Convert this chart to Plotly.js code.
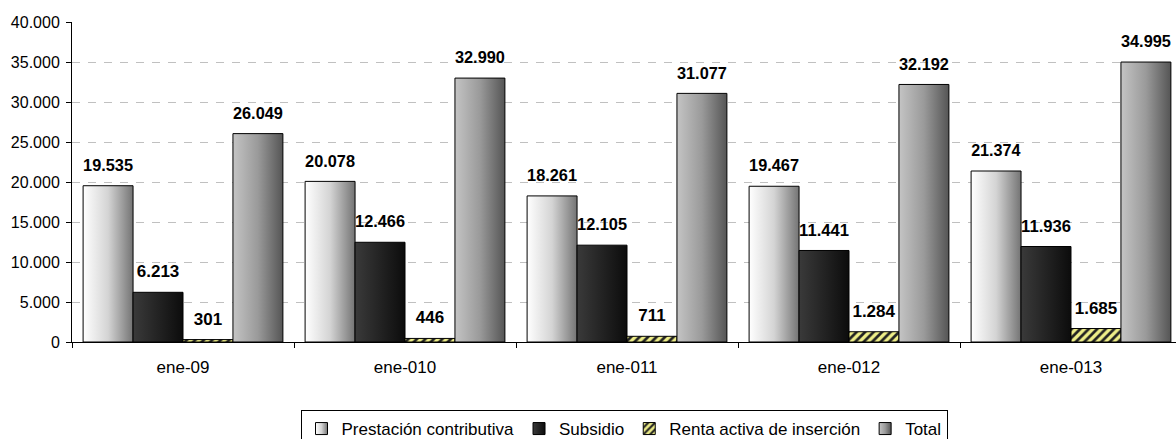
<!DOCTYPE html>
<html><head><meta charset="utf-8">
<script src="https://cdn.plot.ly/plotly-3.0.1.min.js"></script>
<style>html,body{margin:0;padding:0;background:#fff;}#chart{width:1176px;height:439px;}</style>
</head><body><div id="chart"></div>
<script>
const categories = ['ene-09','ene-010','ene-011','ene-012','ene-013'];
const prestacion = [19535, 20078, 18261, 19467, 21374];
const subsidio = [6213, 12466, 12105, 11441, 11936];
const renta = [301, 446, 711, 1284, 1685];
const total = [26049, 32990, 31077, 32192, 34995];
const seriesNames = ['Prestación contributiva','Subsidio','Renta activa de inserción','Total'];

const FONT = 'Liberation Sans, Arial, sans-serif';
const textFont = {family:FONT, size:17, color:'#000', weight:'bold'};
function mk(name, y, color, extraMarker){
  return {
    type:'bar', name:name, x:categories, y:y,
    marker:Object.assign({color:color, line:{color:'#000', width:1}}, extraMarker||{}),
    texttemplate:'%{y:,d}', textposition:'outside', textfont:textFont,
    cliponaxis:false, hoverinfo:'skip'
  };
}
const data = [
  mk(seriesNames[0], prestacion, '#d0d0d0'),
  mk(seriesNames[1], subsidio, '#222222'),
  mk(seriesNames[2], renta, '#eeee88',
     {pattern:{shape:'/', fgcolor:'#222', bgcolor:'#eeee88', size:6, solidity:0.45}}),
  mk(seriesNames[3], total, '#888888')
];
const layout = {
  width:1176, height:439,
  margin:{l:72, r:0, t:22, b:97, autoexpand:false},
  paper_bgcolor:'#fff', plot_bgcolor:'#fff',
  separators:',.',
  font:{family:FONT, size:16, color:'#000'},
  barmode:'group', bargap:0.1, bargroupgap:0,
  showlegend:true,
  legend:{orientation:'h', x:0.5, xanchor:'center', y:-0.2125, yanchor:'top',
    bordercolor:'#000', borderwidth:1, font:{size:17, family:FONT}, itemwidth:30,
    tracegroupgap:0, traceorder:'normal'},
  xaxis:{range:[-0.5, 4.473], showline:true, linecolor:'#000', linewidth:1, ticks:'outside',
    tickson:'boundaries', ticklen:5, tickcolor:'#000', showgrid:false,
    tickfont:{size:17}, ticklabelstandoff:10},
  yaxis:{range:[0,40000], dtick:5000, tickformat:',d', showline:true, linecolor:'#000', linewidth:1,
    ticks:'outside', ticklen:5, tickcolor:'#000', showgrid:true, gridcolor:'#c0c0c0',
    griddash:'8px,8px', gridwidth:1, zeroline:false, tickfont:{size:16}, ticklabelstandoff:3}
};
Plotly.newPlot('chart', data, layout, {displayModeBar:false, staticPlot:true}).then(function(gd){
  const svg = gd.querySelector('svg.main-svg');
  const ns = 'http://www.w3.org/2000/svg';
  let defs = svg.querySelector('defs');
  const grads = {
    gPrest:[['0%','#ffffff'],['50%','#d4d4d4'],['100%','#747474']],
    gSub:[['0%','#3a3a3a'],['100%','#0c0c0c']],
    gTot:[['0%','#c4c4c4'],['50%','#9a9a9a'],['100%','#555555']]
  };
  Object.keys(grads).forEach(function(id){
    const lg = document.createElementNS(ns,'linearGradient');
    lg.setAttribute('id',id); lg.setAttribute('x1','0'); lg.setAttribute('y1','0');
    lg.setAttribute('x2','1'); lg.setAttribute('y2','0');
    grads[id].forEach(function(s){
      const st = document.createElementNS(ns,'stop');
      st.setAttribute('offset',s[0]); st.setAttribute('stop-color',s[1]);
      lg.appendChild(st);
    });
    defs.appendChild(lg);
  });
  const map = ['gPrest','gSub',null,'gTot'];
  gd.querySelectorAll('.barlayer .trace.bars').forEach(function(t,i){
    if(map[i]) t.querySelectorAll('.point path').forEach(function(p){ p.style.fill = 'url(#'+map[i]+')'; });
    t.querySelectorAll('.point text').forEach(function(tx){
      const tr = tx.getAttribute('transform') || '';
      tx.setAttribute('transform', 'translate(0,-8) ' + tr);
    });
  });
  gd.querySelectorAll('.legend .traces').forEach(function(t,i){
    if(map[i]) t.querySelectorAll('.legendpoints path').forEach(function(p){ p.style.fill = 'url(#'+map[i]+')'; });
  });
});
</script></body></html>
